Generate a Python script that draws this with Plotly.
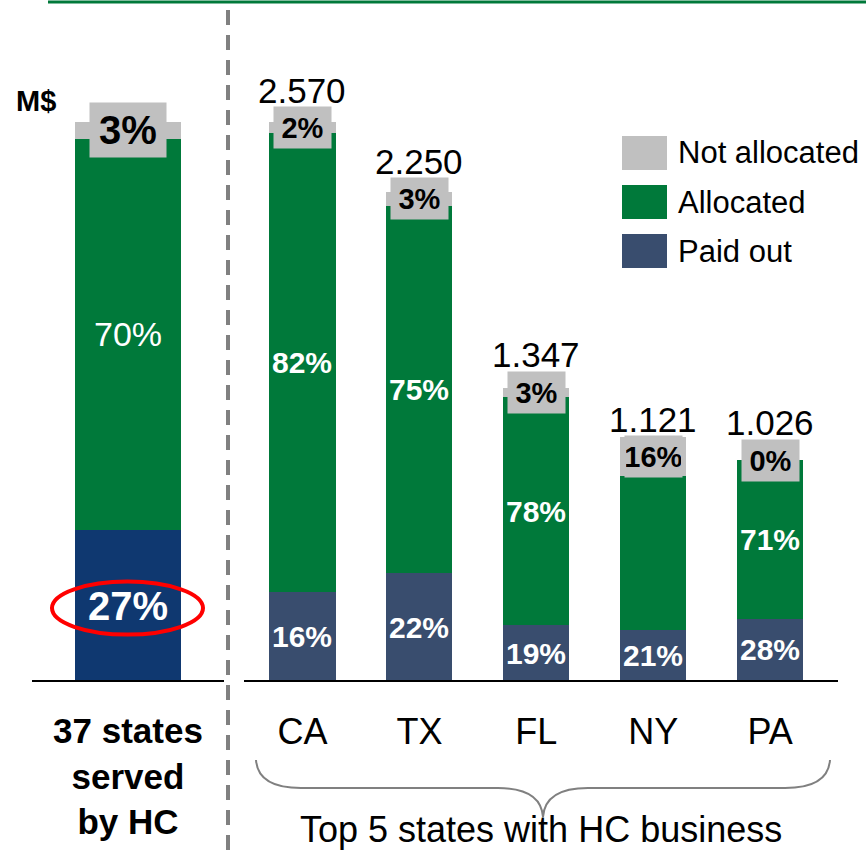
import plotly.graph_objects as go

# ---- data -------------------------------------------------------------
left_category = "<b>37 states<br>served<br>by HC</b>"
left_paid_pct = 27
left_alloc_pct = 70
left_notalloc_pct = 3

states = ["CA", "TX", "FL", "NY", "PA"]
totals = [2.570, 2.250, 1.347, 1.121, 1.026]          # M$
paid_pct = [16, 22, 19, 21, 28]
alloc_pct = [82, 75, 78, 63, 71]
alloc_label_shown = [True, True, True, False, True]
notalloc_pct = [2, 3, 3, 16, 0]

legend_names = ["Not allocated", "Allocated", "Paid out"]

# ---- styling ----------------------------------------------------------
GRAY = "#C0C0C0"
GREEN = "#00793A"
BLUE = "#394D6E"
NAVY = "#0F3870"
FONT = "Liberation Sans, Arial, sans-serif"

W, H = 866, 850
BASE_PX = 681          # pixel row of the baseline
BAR_PX = 559           # pixel height of the tallest bar


def px(x):
    return x / W


def py(y):
    return 1 - y / H


fig = go.Figure()

# left bar: share of the whole (percent scale)
left_vals = [left_paid_pct, left_alloc_pct, left_notalloc_pct]
for val, col in zip(left_vals, [NAVY, GREEN, GRAY]):
    fig.add_trace(go.Bar(x=[left_category], y=[val], marker_color=col,
                         marker_line_width=0, width=0.552,
                         xaxis="x", yaxis="y", showlegend=False,
                         hoverinfo="skip"))

# right bars: top states, stacked in M$
paid_vals = [t * p / 100 for t, p in zip(totals, paid_pct)]
alloc_vals = [t * p / 100 for t, p in zip(totals, alloc_pct)]
na_vals = [t * p / 100 for t, p in zip(totals, notalloc_pct)]
for vals, col in zip([paid_vals, alloc_vals, na_vals], [BLUE, GREEN, GRAY]):
    fig.add_trace(go.Bar(x=states, y=vals, marker_color=col,
                         marker_line_width=0, width=0.565,
                         xaxis="x2", yaxis="y2", showlegend=False,
                         hoverinfo="skip"))

ann = []

# labels on the left bar
ann.append(dict(x=left_category, y=left_paid_pct / 2, xref="x", yref="y",
                text=f"<b>{left_paid_pct}%</b>", showarrow=False,
                font=dict(size=40, color="white", family=FONT)))
ann.append(dict(x=left_category, y=left_paid_pct + left_alloc_pct / 2,
                xref="x", yref="y", text=f"{left_alloc_pct}%", showarrow=False,
                font=dict(size=34, color="white", family=FONT)))
ann.append(dict(x=left_category,
                y=left_paid_pct + left_alloc_pct + left_notalloc_pct / 2,
                xref="x", yref="y", text=f"<b>{left_notalloc_pct}%</b>",
                showarrow=False, bgcolor=GRAY, width=74, height=52,
                font=dict(size=40, color="black", family=FONT)))

# labels on the state bars
for i, s in enumerate(states):
    ann.append(dict(x=s, y=paid_vals[i] / 2, xref="x2", yref="y2",
                    text=f"<b>{paid_pct[i]}%</b>", showarrow=False,
                    font=dict(size=30, color="white", family=FONT)))
    if alloc_label_shown[i]:
        ann.append(dict(x=s, y=paid_vals[i] + alloc_vals[i] / 2,
                        xref="x2", yref="y2", text=f"<b>{alloc_pct[i]}%</b>",
                        showarrow=False,
                        font=dict(size=30, color="white", family=FONT)))
    gray_mid = paid_vals[i] + alloc_vals[i] + na_vals[i] / 2
    ann.append(dict(x=s, y=gray_mid, xref="x2", yref="y2",
                    text=f"<b>{notalloc_pct[i]}%</b>", showarrow=False,
                    bgcolor=GRAY, width=55, height=39,
                    font=dict(size=29, color="black", family=FONT)))
    ann.append(dict(x=s, y=gray_mid, xref="x2", yref="y2",
                    text=f"{totals[i]:.3f}", showarrow=False,
                    yanchor="bottom", yshift=16,
                    font=dict(size=35, color="black", family=FONT)))

# unit label
ann.append(dict(x=px(36), y=py(101), xref="paper", yref="paper",
                xanchor="center", yanchor="middle", text="<b>M$</b>",
                showarrow=False, font=dict(size=29, color="black", family=FONT)))

# group caption under the brace
ann.append(dict(x=px(541), y=py(829), xref="paper", yref="paper",
                xanchor="center", yanchor="middle",
                text="Top 5 states with HC business", showarrow=False,
                font=dict(size=36, color="black", family=FONT)))

shapes = []
# custom legend
legend_cols = [GRAY, GREEN, BLUE]
for k, (name, col) in enumerate(zip(legend_names, legend_cols)):
    top = 136 + 49 * k
    shapes.append(dict(type="rect", xref="paper", yref="paper",
                       x0=px(622), x1=px(667), y0=py(top + 34), y1=py(top),
                       fillcolor=col, line_width=0))
    ann.append(dict(x=px(676), y=py(top + 17), xref="paper", yref="paper",
                    text=name, showarrow=False, xanchor="left",
                    yanchor="middle",
                    font=dict(size=31, color="black", family=FONT)))

# top rule
shapes.append(dict(type="line", xref="paper", yref="paper",
                   x0=px(48), x1=1, y0=py(2), y1=py(2),
                   line=dict(color=GREEN, width=3)))
# dashed divider
shapes.append(dict(type="line", xref="paper", yref="paper",
                   x0=px(228), x1=px(228), y0=py(10), y1=0,
                   line=dict(color="#808080", width=4, dash="15px,10px")))
# red ellipse around the paid-out share
shapes.append(dict(type="circle", xref="x", yref="y",
                   xsizemode="pixel", xanchor=left_category, x0=-76, x1=75,
                   ysizemode="pixel", yanchor=left_paid_pct / 2, y0=-29, y1=24,
                   line=dict(color="#FF0000", width=4)))
# curly brace under the states
bx0, bx1, bmid = 256, 830, 543
btop, bline, btip = 760, 788, 817


def P(x, y):
    return f"{px(x)},{py(y)}"


brace = (f"M {P(bx0, btop)} Q {P(bx0 + 2, bline)} {P(bx0 + 45, bline)} "
         f"L {P(bmid - 45, bline)} Q {P(bmid - 2, bline)} {P(bmid, btip)} "
         f"Q {P(bmid + 2, bline)} {P(bmid + 45, bline)} "
         f"L {P(bx1 - 45, bline)} Q {P(bx1 - 2, bline)} {P(bx1, btop)}")
shapes.append(dict(type="path", xref="paper", yref="paper", path=brace,
                   line=dict(color="#808080", width=2)))

s_left = BAR_PX / 100.0
s_right = BAR_PX / max(totals)

axis_common = dict(anchor="free", position=py(BASE_PX), showline=True,
                   linecolor="black", linewidth=2, ticks="", showgrid=False,
                   zeroline=False, ticklabelstandoff=19, fixedrange=True)

fig.update_layout(
    width=W, height=H, autosize=False,
    margin=dict(l=0, r=0, t=0, b=0),
    paper_bgcolor="white", plot_bgcolor="white",
    barmode="stack", bargap=0, showlegend=False,
    font=dict(family=FONT, color="black"),
    xaxis=dict(domain=[px(32), px(224)], range=[-0.5, 0.5],
               tickfont=dict(size=35, color="black", family=FONT),
               **axis_common),
    xaxis2=dict(domain=[px(244), px(838)], range=[-0.5, 4.58],
                tickfont=dict(size=36, color="black", family=FONT),
                **axis_common),
    yaxis=dict(domain=[0, 1], visible=False, fixedrange=True,
               range=[-(H - BASE_PX) / s_left, BASE_PX / s_left]),
    yaxis2=dict(domain=[0, 1], visible=False, fixedrange=True, anchor="x2",
                range=[-(H - BASE_PX) / s_right, BASE_PX / s_right]),
    annotations=ann,
    shapes=shapes,
)

fig.write_html("out.html")
